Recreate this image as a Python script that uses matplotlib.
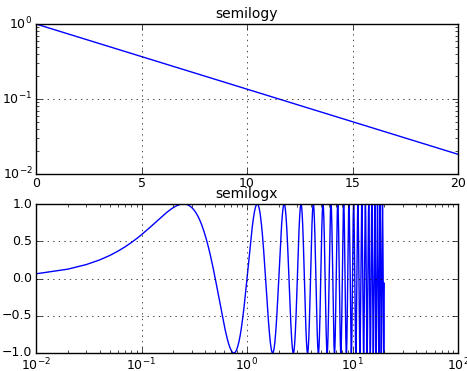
import numpy as np
import matplotlib
matplotlib.use('Agg')
import matplotlib.pyplot as plt

plt.style.use('classic')
plt.rcParams['font.size'] = 9
plt.rcParams['xtick.major.pad'] = 2.5
plt.rcParams['ytick.major.pad'] = 2.5

# sample points and curve parameters from the demo
t_start = 0.01
t_stop = 20.0
t_step = 0.01
decay = 5.0      # y = exp(-t/decay)
freq = 1.0       # y = sin(2*pi*freq*t)

t = np.arange(t_start, t_stop, t_step)
y_top = np.exp(-t / decay)
y_bot = np.sin(2 * np.pi * freq * t)

fig = plt.figure(figsize=(4.67, 3.71), dpi=100)

ax0 = fig.add_axes([36/467, 1 - 174/371, 422/467, 150/371])
ax0.semilogy(t, y_top, color='b')
ax0.set_title('semilogy', fontsize=10, pad=4)
ax0.grid(True)
ax0.set_xlim(0, 20)

ax1 = fig.add_axes([36/467, 1 - 353/371, 422/467, 149/371])
ax1.semilogx(t, y_bot, color='b')
ax1.set_title('semilogx', fontsize=10, pad=4)
ax1.grid(True)
ax1.set_xlim(1e-2, 1e2)
ax1.set_ylim(-1, 1)

fig.savefig('out.png', dpi=100)
